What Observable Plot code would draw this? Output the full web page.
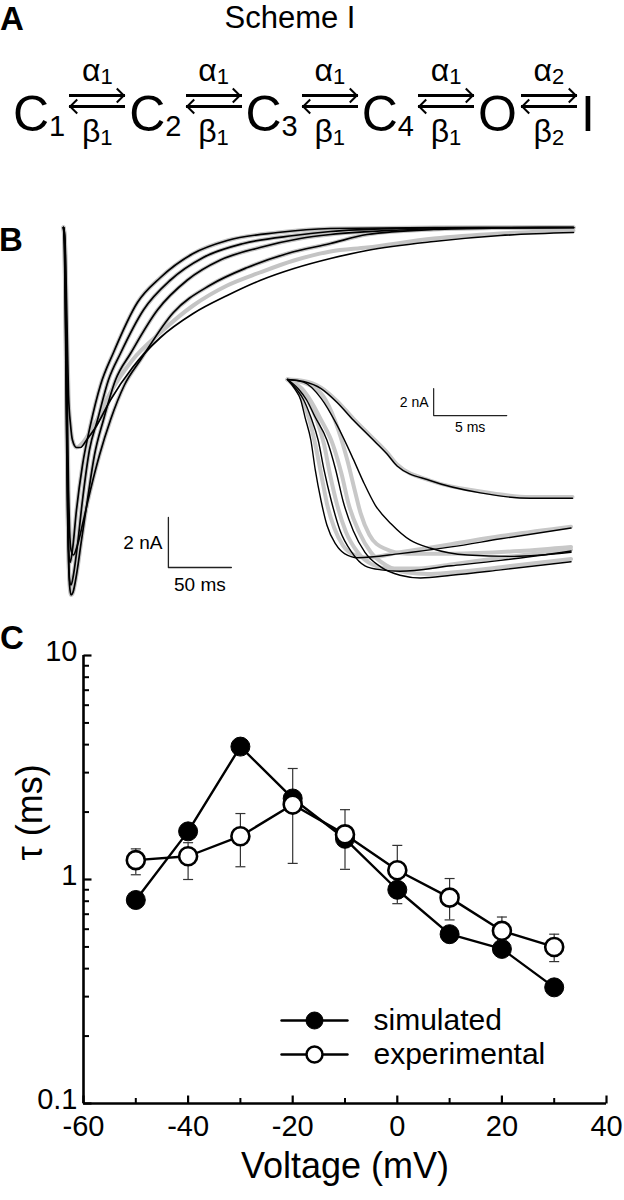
<!DOCTYPE html>
<html>
<head>
<meta charset="utf-8">
<script src="https://cdn.jsdelivr.net/npm/d3@7"></script>
<script src="https://cdn.jsdelivr.net/npm/@observablehq/plot@0.6"></script>
<style>
  html, body { margin: 0; padding: 0; background: #fff; }
  #fig { position: relative; width: 624px; height: 1200px; overflow: hidden; background: #fff;
         font-family: "Liberation Sans", Arial, Helvetica, sans-serif; color: #000; }
  .abs { position: absolute; left: 0; }
  .plabel { position: absolute; font-weight: bold; font-size: 33px; line-height: 33px; }
  .title { position: absolute; font-size: 31px; line-height: 36px; white-space: nowrap; transform: translateX(-50%); }
  .scheme { position: absolute; left: 13px; top: 0; display: flex; align-items: flex-start; }
  .st { font-size: 50px; line-height: 50px; margin-top: 88.7px; white-space: nowrap; flex: none; }
  .st sub { font-size: 29px; line-height: 0; vertical-align: -5px; }
  .tr { position: relative; width: 56px; height: 160px; margin: 0 4px; flex: none; }
  .rate { position: absolute; left: 0; right: 0; text-align: center; font-size: 32px; line-height: 32px; white-space: nowrap; }
  .rate sub { font-size: 22px; line-height: 0; vertical-align: -3px; }
  .rate.a { top: 54px; }
  .rate.b { top: 115px; }
  .arw { position: absolute; left: 0; right: 0; height: 2.8px; background: #000; }
  .arw.f { top: 94px; }
  .arw.b { top: 105px; }
  .arw.f::after { content: ""; position: absolute; right: 2.2px; top: -4.1px; width: 11px; height: 11px; box-sizing: border-box;
                  border-top: 2.8px solid #000; border-right: 2.8px solid #000; transform: rotate(45deg); }
  .arw.b::before { content: ""; position: absolute; left: 2.2px; top: -4.1px; width: 11px; height: 11px; box-sizing: border-box;
                  border-bottom: 2.8px solid #000; border-left: 2.8px solid #000; transform: rotate(45deg); }
</style>
</head>
<body>
<div id="fig"></div>
<script>
// ================= DATA =================
// Panel A: kinetic scheme
const schemeTitle = "Scheme I";
const panelLetters = ["A", "B", "C"];
const stateNames = ["C", "C", "C", "C", "O", "I"];
const stateSubs = ["1", "2", "3", "4", "", ""];
const forwardSubs = ["1", "1", "1", "1", "2"];
const backwardSubs = ["1", "1", "1", "1", "2"];

// Panel B main traces: [time (ms), current (nA)]
const simB1 = [[0,0],[0.8,-0.9],[1.6,-4.1],[2.4,-8.1],[3.2,-11.3],[4.0,-12.9],[5.2,-13.4],[7.1,-12.9],[10.3,-11.3],[15.1,-9.5],[21.4,-7.9],[29.4,-6.3],[39.7,-5.0],[58.7,-3.0],[77,-2.0],[103,-1.04],[130,-0.52],[170,-0.2],[212,-0.04],[307,0],[405,0]];
const simB2 = [[0,0],[0.8,-0.7],[1.6,-3.3],[2.4,-7.3],[3.2,-10.9],[4.0,-13.3],[4.8,-14.1],[6.0,-14.3],[7.9,-13.9],[11.1,-12.7],[15.1,-10.9],[20.6,-8.9],[27,-7.7],[35.7,-6.1],[45.2,-5.04],[63.5,-3.3],[85,-2.1],[111,-1.2],[143,-0.64],[183,-0.32],[212,-0.16],[268,-0.04],[331,0],[405,0]];
const simB3 = [[0,0],[0.8,-0.5],[1.6,-2.9],[2.4,-6.7],[3.2,-10.1],[4.0,-12.9],[4.8,-14.3],[6.0,-14.7],[7.5,-14.6],[10.3,-13.9],[14.3,-12.5],[19.0,-10.9],[24.6,-9.1],[31.7,-7.7],[41.3,-6.1],[53.2,-5.04],[74.6,-3.3],[98.4,-2.1],[124.6,-1.3],[156,-0.8],[188,-0.44],[212,-0.28],[267,-0.1],[331,-0.02],[405,0]];
const simB4 = [[0,0],[0.8,-0.3],[1.6,-1.7],[2.4,-4.5],[3.2,-7.7],[4.0,-10.5],[4.8,-12.1],[6.0,-12.9],[7.9,-13.1],[11.1,-12.7],[15.9,-11.7],[21.4,-10.5],[28.6,-9.1],[37.3,-7.7],[48.4,-6.3],[61.1,-5.3],[87.3,-3.4],[116.7,-2.3],[146,-1.6],[178,-1.04],[212,-0.64],[241,-0.28],[294,-0.08],[347,-0.02],[405,0]];
const simB5 = [[0,0],[0.8,-0.2],[1.6,-1.1],[2.4,-2.9],[3.2,-4.9],[4.0,-6.7],[5.6,-7.9],[7.1,-8.5],[10.3,-8.8],[13.5,-8.8],[18.3,-8.5],[25.4,-8.0],[37.3,-6.9],[54.8,-5.6],[77,-4.4],[103,-3.44],[130,-2.72],[156,-2.12],[183,-1.64],[212,-1.24],[241,-0.92],[294,-0.56],[347,-0.32],[405,-0.2]];
const expB5 = [[0,0],[0.8,-0.2],[1.6,-1.1],[2.4,-2.9],[3.2,-4.9],[4.0,-6.7],[5.6,-7.9],[7.1,-8.5],[10.3,-8.8],[13.5,-8.7],[18.3,-8.4],[25.4,-7.8],[37.3,-6.6],[54.8,-5.3],[77,-4.2],[103,-3.12],[130,-2.32],[156,-1.8],[183,-1.32],[212,-0.96],[241,-0.8],[294,-0.44],[347,-0.24],[405,-0.12]];
const mainScaleBar = {t: 83.3, i: -13.6, dt: 50, di: 2};
const mainBarLabels = ["2 nA", "50 ms"];

// Panel B inset traces (first 20 ms): [time (ms), current (nA)]
const insetSim1 = [[0,0],[1.1,-0.15],[2.3,-0.67],[3.4,-1.7],[4.5,-3.0],[5.7,-4.3],[6.8,-5.5],[7.5,-6.4],[9.8,-7.5],[13.2,-8.4],[16.6,-8.8],[19.5,-8.8]];
const insetSim2 = [[0,0],[1.1,-0.2],[2.3,-1.4],[3.4,-3.4],[4.5,-5.9],[5.2,-7.6],[6.0,-9.3],[7.1,-10.7],[8.4,-11.9],[9.8,-12.5],[12.3,-13.0],[15.5,-13.1],[19.4,-12.8]];
const insetSim3 = [[0,0],[0.5,-0.7],[0.9,-1.5],[1.2,-2.8],[1.6,-4.5],[1.9,-6.7],[2.3,-9.0],[2.7,-10.8],[3.3,-12.2],[3.9,-12.9],[4.8,-13.2],[7.7,-12.9],[11.2,-12.4],[14.6,-11.8],[19.4,-11.0]];
const insetSim4 = [[0,0],[0.6,-0.7],[1.1,-1.5],[1.6,-2.8],[2.1,-4.5],[2.5,-6.7],[3.0,-9.0],[3.6,-11.2],[4.4,-12.8],[5.3,-13.8],[6.4,-14.1],[7.7,-14.2],[11.2,-13.8],[14.6,-13.4],[19.4,-12.7]];
const insetSim5 = [[0,0],[0.75,-0.7],[1.3,-1.5],[1.9,-2.8],[2.7,-4.5],[3.3,-6.7],[3.8,-9.0],[4.5,-11.2],[5.3,-12.8],[6.4,-13.9],[7.7,-14.5],[9.1,-14.7],[11.2,-14.5],[14.6,-14.1],[19.4,-13.5]];
const insetExp1 = [[0,0],[1.1,-0.1],[2.3,-0.6],[3.4,-1.6],[4.5,-2.9],[5.7,-4.2],[6.8,-5.4],[7.5,-6.3],[9.8,-7.5],[13.2,-8.3],[16.6,-8.7],[19.5,-8.7]];
const insetExp2 = [[0,0],[1.3,-0.3],[2.6,-1.5],[3.5,-3.8],[4.1,-6.0],[4.6,-8.2],[5.0,-9.9],[5.6,-11.5],[6.6,-12.5],[8.2,-12.9],[11.2,-12.9],[15.9,-12.7],[19.4,-12.4]];
const insetExp3 = [[0,0],[0.6,-0.7],[1.1,-1.7],[1.5,-3.0],[1.9,-4.8],[2.3,-7.0],[2.7,-9.2],[3.2,-11.0],[3.8,-12.3],[4.6,-13.0],[5.5,-13.2],[7.7,-12.8],[11.2,-12.2],[14.6,-11.6],[19.4,-10.9]];
const insetExp4 = [[0,0],[0.8,-0.7],[1.4,-1.6],[2.0,-3.0],[2.5,-4.8],[2.9,-7.0],[3.4,-9.3],[4.0,-11.3],[4.8,-12.8],[5.8,-13.7],[7.0,-14.0],[9.0,-14.0],[11.2,-13.7],[14.6,-13.2],[19.4,-12.6]];
const insetExp5 = [[0,0],[1.0,-0.7],[1.6,-1.6],[2.3,-3.0],[3.1,-4.8],[3.7,-7.0],[4.2,-9.3],[4.9,-11.3],[5.7,-12.8],[6.8,-13.8],[8.2,-14.3],[9.6,-14.4],[11.2,-14.3],[14.6,-13.9],[19.4,-13.3]];
const insetScaleBar = {t: 10, i: -2.67, dt: 5, di: 2};
const insetBarLabels = ["2 nA", "5 ms"];

// Panel C: tau vs voltage
const voltages = [-50, -40, -30, -20, -10, 0, 10, 20, 30];
const simTau = [0.81, 1.64, 3.92, 2.30, 1.52, 0.90, 0.57, 0.49, 0.33];
const expTau = [1.22, 1.27, 1.56, 2.16, 1.59, 1.10, 0.83, 0.59, 0.50];
const expLow = [1.05, 1.00, 1.14, 1.18, 1.11, 0.78, 0.66, 0.50, 0.43];
const expHigh = [1.37, 1.46, 1.97, 3.13, 2.05, 1.42, 1.01, 0.68, 0.57];
const yMajorTicks = [0.1, 1, 10];
const yMinorTicks = [0.2, 0.3, 0.4, 0.5, 0.6, 0.7, 0.8, 0.9, 2, 3, 4, 5, 6, 7, 8, 9];
const xMajorTicks = [-60, -40, -20, 0, 20, 40];
const xMinorTicks = [-50, -30, -10, 10, 30];
const xTitle = "Voltage (mV)";
const yTitle = "τ (ms)";
const legendLabels = ["simulated", "experimental"];

// ================= BUILD =================
const fig = document.getElementById("fig");
const FONT = '"Liberation Sans", Arial, Helvetica, sans-serif';

function place(node, left, top) {
  const d = document.createElement("div");
  d.className = "abs";
  d.style.left = left + "px";
  d.style.top = top + "px";
  d.appendChild(node);
  fig.appendChild(d);
  return d;
}

// Panel letters
[[panelLetters[0], 0, 2], [panelLetters[1], -1, 223], [panelLetters[2], 0, 621]].forEach(([t, l, tp]) => {
  const d = document.createElement("div");
  d.className = "plabel";
  d.textContent = t;
  d.style.left = l + "px";
  d.style.top = tp + "px";
  fig.appendChild(d);
});

// Panel A
const title = document.createElement("div");
title.className = "title";
title.textContent = schemeTitle;
title.style.left = "290px";
title.style.top = "0px";
fig.appendChild(title);

const scheme = document.createElement("div");
scheme.className = "scheme";
stateNames.forEach((s, k) => {
  const st = document.createElement("div");
  st.className = "st";
  st.innerHTML = s + (stateSubs[k] ? "<sub>" + stateSubs[k] + "</sub>" : "");
  scheme.appendChild(st);
  if (k < forwardSubs.length) {
    const tr = document.createElement("div");
    tr.className = "tr";
    tr.innerHTML = '<div class="rate a">α<sub>' + forwardSubs[k] + '</sub></div>' +
                   '<div class="arw f"></div><div class="arw b"></div>' +
                   '<div class="rate b">β<sub>' + backwardSubs[k] + '</sub></div>';
    scheme.appendChild(tr);
  }
});
fig.appendChild(scheme);

// Panel B helpers
const toRows = (arr, id) => arr.map(([t, i]) => ({t, i, id}));
const barPath = b => [{t: b.t, i: b.i + b.di}, {t: b.t, i: b.i}, {t: b.t + b.dt, i: b.i}];

const mainBlack = [simB1, simB2, simB3, simB4, simB5].flatMap((a, k) => toRows(a, "s" + k));
const mainGray = [simB1, simB2, simB3, simB4, expB5].flatMap((a, k) => toRows(a, "e" + k));

const mainPlot = Plot.plot({
  width: 624, height: 410,
  marginLeft: 63, marginRight: 51, marginTop: 27, marginBottom: 8,
  x: {domain: [0, 405], axis: null},
  y: {domain: [-15, 0], axis: null},
  style: {background: "transparent", fontFamily: FONT, overflow: "visible"},
  marks: [
    Plot.line(mainGray, {x: "t", y: "i", z: "id", stroke: "#c4c4c4", strokeWidth: 4, curve: "monotone-x"}),
    Plot.line(mainBlack, {x: "t", y: "i", z: "id", stroke: "#000", strokeWidth: 1.7, curve: "monotone-x"}),
    Plot.line(barPath(mainScaleBar), {x: "t", y: "i", stroke: "#222", strokeWidth: 1.3}),
    Plot.text([mainBarLabels[0]], {x: mainScaleBar.t, y: mainScaleBar.i + mainScaleBar.di / 2, text: d => d, dx: -6, textAnchor: "end", fontSize: 19}),
    Plot.text([mainBarLabels[1]], {x: mainScaleBar.t + mainScaleBar.dt / 2, y: mainScaleBar.i, text: d => d, dy: 17, fontSize: 19})
  ]
});
place(mainPlot, 0, 200);

const insetBlack = [insetSim1, insetSim2, insetSim3, insetSim4, insetSim5].flatMap((a, k) => toRows(a, "s" + k));
const insetGray = [insetExp1, insetExp2, insetExp3, insetExp4, insetExp5].flatMap((a, k) => toRows(a, "e" + k));

const insetPlot = Plot.plot({
  width: 624, height: 252,
  marginLeft: 287, marginRight: 52, marginTop: 39, marginBottom: 10.5,
  x: {domain: [0, 19.5], axis: null},
  y: {domain: [-15, 0], axis: null},
  style: {background: "transparent", fontFamily: FONT, overflow: "visible"},
  marks: [
    Plot.line(insetGray, {x: "t", y: "i", z: "id", stroke: "#c8c8c8", strokeWidth: 4, curve: "monotone-x"}),
    Plot.line(insetBlack, {x: "t", y: "i", z: "id", stroke: "#000", strokeWidth: 1.4, curve: "monotone-x"}),
    Plot.line(barPath(insetScaleBar), {x: "t", y: "i", stroke: "#222", strokeWidth: 1.2}),
    Plot.text([insetBarLabels[0]], {x: insetScaleBar.t, y: insetScaleBar.i + insetScaleBar.di / 2, text: d => d, dx: -5, textAnchor: "end", fontSize: 14}),
    Plot.text([insetBarLabels[1]], {x: insetScaleBar.t + insetScaleBar.dt / 2, y: insetScaleBar.i, text: d => d, dy: 12, fontSize: 14})
  ]
});
place(insetPlot, 0, 340);

// Panel C
const cRows = voltages.map((v, k) => ({v, sim: simTau[k], exp: expTau[k], lo: expLow[k], hi: expHigh[k]}));
const hBar = {draw(ctx, size) { const r = Math.sqrt(size / Math.PI); ctx.moveTo(-r, 0); ctx.lineTo(r, 0); }};
const tickRight = {draw(ctx, size) { const r = Math.sqrt(size / Math.PI); ctx.moveTo(0, 0); ctx.lineTo(r, 0); }};
const tickUp = {draw(ctx, size) { const r = Math.sqrt(size / Math.PI); ctx.moveTo(0, 0); ctx.lineTo(0, -r); }};

const cPlot = Plot.plot({
  width: 624, height: 580,
  marginLeft: 83, marginRight: 18, marginTop: 35, marginBottom: 97,
  x: {domain: [-60, 40], axis: null},
  y: {type: "log", domain: [0.1, 10], axis: null},
  style: {background: "transparent", fontFamily: FONT, overflow: "visible"},
  marks: [
    Plot.ruleX(cRows, {x: "v", y1: "lo", y2: "hi", stroke: "#333", strokeWidth: 1.2}),
    Plot.dot(cRows, {x: "v", y: "lo", symbol: hBar, r: 5, fill: "none", stroke: "#333", strokeWidth: 1.2}),
    Plot.dot(cRows, {x: "v", y: "hi", symbol: hBar, r: 5, fill: "none", stroke: "#333", strokeWidth: 1.2}),
    Plot.line(cRows, {x: "v", y: "sim", stroke: "#000", strokeWidth: 2.4}),
    Plot.line(cRows, {x: "v", y: "exp", stroke: "#000", strokeWidth: 2.4}),
    Plot.dot(cRows, {x: "v", y: "sim", r: 9.5, fill: "#000", stroke: "#000", strokeWidth: 1}),
    Plot.dot(cRows, {x: "v", y: "exp", r: 9, fill: "#fff", stroke: "#000", strokeWidth: 2.6}),
    Plot.ruleX([-60], {stroke: "#000", strokeWidth: 2.6}),
    Plot.ruleY([0.1], {stroke: "#000", strokeWidth: 2.6}),
    Plot.dot(yMajorTicks, {y: d => d, frameAnchor: "left", symbol: tickRight, r: 8, fill: "none", stroke: "#000", strokeWidth: 2.2}),
    Plot.dot(yMinorTicks, {y: d => d, frameAnchor: "left", symbol: tickRight, r: 5.5, fill: "none", stroke: "#000", strokeWidth: 2}),
    Plot.dot(xMajorTicks, {x: d => d, frameAnchor: "bottom", symbol: tickUp, r: 8, fill: "none", stroke: "#000", strokeWidth: 2.2}),
    Plot.dot(xMinorTicks, {x: d => d, frameAnchor: "bottom", symbol: tickUp, r: 5.5, fill: "none", stroke: "#000", strokeWidth: 2}),
    Plot.text(yMajorTicks, {y: d => d, frameAnchor: "left", text: d => String(d), dx: -6, dy: -4, textAnchor: "end", fontSize: 29}),
    Plot.text(xMajorTicks, {x: d => d, frameAnchor: "bottom", text: d => String(d), dy: 32, fontSize: 29}),
    Plot.text([xTitle], {frameAnchor: "bottom", text: d => d, dy: 74, fontSize: 36}),
    Plot.text([yTitle], {frameAnchor: "left", text: d => d, dx: -53, dy: -19, rotate: -90, fontSize: 36})
  ]
});
place(cPlot, 0, 620);

// Legend for panel C
const legendLines = legendLabels.flatMap(l => [{l, x: 0}, {l, x: 1}]);
const legendPlot = Plot.plot({
  width: 624, height: 80,
  marginLeft: 281, marginRight: 277, marginTop: 0, marginBottom: 0,
  x: {domain: [0, 1], axis: null},
  y: {type: "point", domain: legendLabels, range: [25, 59], padding: 0, axis: null},
  style: {background: "transparent", fontFamily: FONT, overflow: "visible"},
  marks: [
    Plot.line(legendLines, {x: "x", y: "l", z: "l", stroke: "#000", strokeWidth: 2.4}),
    Plot.dot([legendLabels[0]], {x: () => 0.5, y: d => d, r: 8.5, fill: "#000", stroke: "#000", strokeWidth: 1}),
    Plot.dot([legendLabels[1]], {x: () => 0.5, y: d => d, r: 8, fill: "#fff", stroke: "#000", strokeWidth: 2.5}),
    Plot.text(legendLabels, {x: () => 1, y: d => d, text: d => d, dx: 26, textAnchor: "start", fontSize: 30})
  ]
});
place(legendPlot, 0, 995);
</script>
</body>
</html>
